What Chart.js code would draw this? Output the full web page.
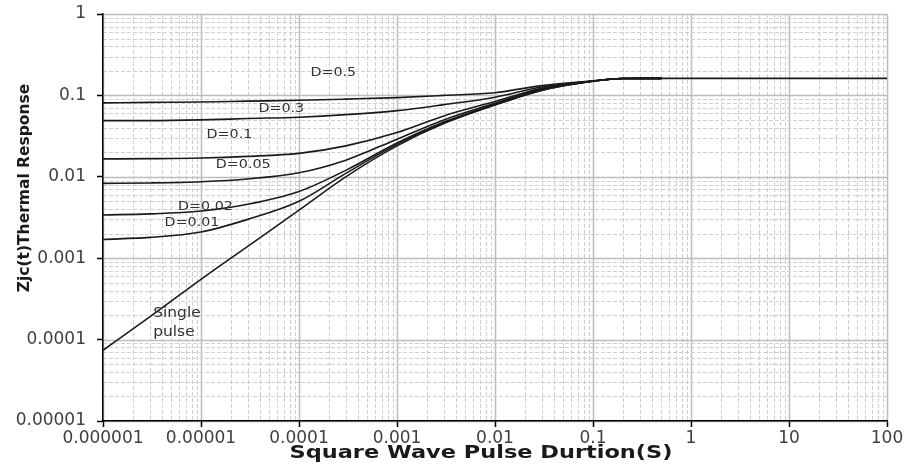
<!DOCTYPE html>
<html>
<head>
<meta charset="utf-8">
<script src="https://cdn.jsdelivr.net/npm/chart.js@4.4.1/dist/chart.umd.min.js"></script>
<style>
  html, body { margin: 0; padding: 0; background: #fff; }
  #wrap { width: 909px; height: 470px; position: relative; }
</style>
</head>
<body>
<div id="wrap"><canvas id="thermalChart"></canvas></div>
<script>
var pulseTimes = [1e-6, 3e-6, 1e-5, 3e-5, 1e-4, 3e-4, 1e-3, 3e-3, 1e-2, 3e-2, 1e-1, 2e-1, 5e-1, 1, 10, 100];

// Zjc(t) for each duty cycle
var zthD05  = [0.081, 0.082, 0.083, 0.085, 0.087, 0.090, 0.094, 0.100, 0.108, 0.132, 0.151, 0.161, 0.162, null, null, null];
var zthD03  = [0.049, 0.049, 0.050, 0.052, 0.054, 0.058, 0.065, 0.077, 0.095, 0.127, 0.150, 0.161, 0.162, null, null, null];
var zthD01  = [0.0166, 0.0167, 0.0170, 0.0178, 0.0194, 0.024, 0.035, 0.056, 0.084, 0.122, 0.150, 0.161, 0.162, null, null, null];
var zthD005 = [0.0083, 0.0084, 0.0087, 0.0094, 0.0112, 0.016, 0.029, 0.050, 0.080, 0.119, 0.150, 0.161, 0.162, null, null, null];
var zthD002 = [0.0034, 0.0035, 0.0038, 0.0046, 0.0066, 0.012, 0.026, 0.047, 0.078, 0.117, 0.149, 0.161, 0.162, null, null, null];
var zthD001 = [0.0017, 0.0018, 0.0021, 0.0030, 0.0050, 0.011, 0.025, 0.046, 0.077, 0.116, 0.149, 0.161, 0.162, null, null, null];
var zthSingle = [0.000074, 0.00019, 0.00055, 0.0014, 0.0039, 0.010, 0.024, 0.045, 0.076, 0.115, 0.149, 0.161, 0.162, 0.162, 0.162, 0.162];

var seriesNames = ['D=0.5', 'D=0.3', 'D=0.1', 'D=0.05', 'D=0.02', 'D=0.01', 'Single pulse'];
var seriesValues = [zthD05, zthD03, zthD01, zthD005, zthD002, zthD001, zthSingle];

// axis ticks
var xTickValues = [1e-6, 1e-5, 1e-4, 1e-3, 1e-2, 1e-1, 1, 10, 100];
var xTickLabels = ['0.000001', '0.00001', '0.0001', '0.001', '0.01', '0.1', '1', '10', '100'];
var yTickValues = [1e-5, 1e-4, 1e-3, 1e-2, 1e-1, 1];
var yTickLabels = ['0.00001', '0.0001', '0.001', '0.01', '0.1', '1'];

// curve labels, anchored in data units
var curveLabels = [
    { lines: ['D=0.5'], x: 2.24e-4, y: 0.188 },
    { lines: ['D=0.3'], x: 6.6e-5, y: 0.068 },
    { lines: ['D=0.1'], x: 1.95e-5, y: 0.0327 },
    { lines: ['D=0.05'], x: 2.7e-5, y: 0.014 },
    { lines: ['D=0.02'], x: 1.11e-5, y: 0.00426 },
    { lines: ['D=0.01'], x: 8.1e-6, y: 0.0027 },
    { lines: ['Single', 'pulse'], x: 3.26e-6, y: 1.62e-4, left: true }
];

var xTitle = 'Square Wave Pulse Durtion(S)';
var yTitle = 'Zjc(t)Thermal Response';

function stretchText(ctx, text, x, y, sx) {
    ctx.save();
    ctx.translate(x, y);
    ctx.scale(sx, 1);
    ctx.fillText(text, 0, 0);
    ctx.restore();
}

// log grid: solid decades, dashed 2..9
var logGrid = {
    id: 'logGrid',
    beforeDraw: function (chart) {
        var ctx = chart.ctx, a = chart.chartArea;
        var xs = chart.scales.x, ys = chart.scales.y;
        ctx.save();
        ctx.fillStyle = '#fff';
        ctx.fillRect(0, 0, chart.width, chart.height);
        for (var e = -6; e <= 2; e++) {
            for (var m = 1; m <= 9; m++) {
                var v = m * Math.pow(10, e);
                if (v > 100) break;
                var px = Math.round(xs.getPixelForValue(v)) + 0.5;
                ctx.beginPath();
                ctx.strokeStyle = m === 1 ? '#bdbdbd' : '#d0d0d0';
                ctx.lineWidth = m === 1 ? 1.5 : 1;
                ctx.setLineDash(m === 1 ? [] : [4, 2]);
                ctx.moveTo(px, a.top);
                ctx.lineTo(px, a.bottom);
                ctx.stroke();
            }
        }
        for (var e2 = -5; e2 <= 0; e2++) {
            for (var m2 = 1; m2 <= 9; m2++) {
                var v2 = m2 * Math.pow(10, e2);
                if (v2 > 1) break;
                var py = Math.round(ys.getPixelForValue(v2)) + 0.5;
                ctx.beginPath();
                ctx.strokeStyle = m2 === 1 ? '#bdbdbd' : '#d0d0d0';
                ctx.lineWidth = m2 === 1 ? 1.5 : 1;
                ctx.setLineDash(m2 === 1 ? [] : [4, 2]);
                ctx.moveTo(a.left, py);
                ctx.lineTo(a.right, py);
                ctx.stroke();
            }
        }
        ctx.restore();
    }
};

// curve labels and axis titles
var textLayer = {
    id: 'textLayer',
    afterDraw: function (chart) {
        var ctx = chart.ctx;
        var xs = chart.scales.x, ys = chart.scales.y, a = chart.chartArea;
        ctx.save();
        ctx.fillStyle = '#333';
        ctx.textBaseline = 'middle';
        ctx.textAlign = 'left';
        curveLabels.forEach(function (lb) {
            var px = xs.getPixelForValue(lb.x);
            var py = ys.getPixelForValue(lb.y);
            var n = lb.lines.length;
            ctx.font = (lb.left ? '14px' : '13px') + ' "DejaVu Sans"';
            lb.lines.forEach(function (t, i) {
                var w = ctx.measureText(t).width * 1.1;
                var lx = lb.left ? px : px - w / 2;
                stretchText(ctx, t, lx, py + (i - (n - 1) / 2) * 19, 1.1);
            });
        });

        ctx.fillStyle = '#1a1a1a';
        ctx.font = 'bold 17px "DejaVu Sans"';
        ctx.textAlign = 'center';
        var xw = ctx.measureText(xTitle).width;
        stretchText(ctx, xTitle, 481, a.bottom + 33, 383 / xw);

        ctx.font = 'bold 15.5px "DejaVu Sans"';
        ctx.translate(25, 188);
        ctx.rotate(-Math.PI / 2);
        ctx.fillText(yTitle, 0, 0);
        ctx.restore();
    }
};

var datasets = seriesNames.map(function (name, k) {
    return {
        label: name,
        data: pulseTimes.map(function (t, i) { return { x: t, y: seriesValues[k][i] }; }),
        borderColor: '#1a1a1a',
        borderWidth: 1.6,
        pointRadius: 0,
        fill: false,
        cubicInterpolationMode: 'monotone'
    };
});

var tickFont = { family: 'DejaVu Sans', size: 17 };

function noPad(s) {
    s.paddingTop = 0;
    s.paddingBottom = 0;
    s.paddingLeft = 0;
    s.paddingRight = 0;
}

new Chart(document.getElementById('thermalChart'), {
    type: 'line',
    data: { datasets: datasets },
    options: {
        responsive: true,
        maintainAspectRatio: false,
        animation: false,
        layout: { padding: { left: 0, right: 22, top: 14, bottom: 0 } },
        plugins: {
            legend: { display: false },
            tooltip: { enabled: false }
        },
        scales: {
            x: {
                type: 'logarithmic',
                min: 1e-6,
                max: 100,
                afterBuildTicks: function (s) {
                    s.ticks = xTickValues.map(function (v) { return { value: v }; });
                },
                afterFit: function (s) { s.height = 49; noPad(s); },
                ticks: {
                    autoSkip: false,
                    maxRotation: 0,
                    padding: 1,
                    color: '#404040',
                    font: tickFont,
                    callback: function (v, i) { return xTickLabels[i]; }
                },
                grid: { drawOnChartArea: false, drawTicks: true, tickLength: 6, tickColor: '#000', tickWidth: 1.5 },
                border: { color: '#000', width: 1.5 }
            },
            y: {
                type: 'logarithmic',
                min: 1e-5,
                max: 1,
                afterBuildTicks: function (s) {
                    s.ticks = yTickValues.map(function (v) { return { value: v }; });
                },
                afterFit: function (s) { s.width = 103; noPad(s); },
                ticks: {
                    autoSkip: false,
                    padding: 11,
                    color: '#404040',
                    font: tickFont,
                    callback: function (v, i) { return yTickLabels[i]; }
                },
                grid: { drawOnChartArea: false, drawTicks: true, tickLength: 6, tickColor: '#000', tickWidth: 1.5 },
                border: { color: '#000', width: 1.5 }
            }
        }
    },
    plugins: [logGrid, textLayer]
});
</script>
</body>
</html>
